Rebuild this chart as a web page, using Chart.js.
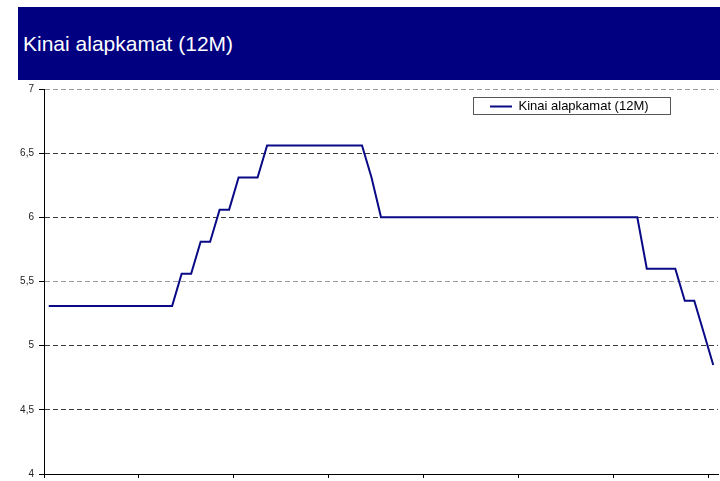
<!DOCTYPE html>
<html>
<head>
<meta charset="utf-8">
<script src="https://cdn.jsdelivr.net/npm/chart.js@4/dist/chart.umd.min.js"></script>
<style>
  html, body { margin: 0; padding: 0; background: #fff; overflow: hidden; }
  #wrap { position: relative; width: 720px; height: 481px; overflow: hidden; }
  #banner { position: absolute; left: 18px; top: 7px; width: 702px; height: 73px; background: #000080;
            color: #fff; font-family: "Liberation Sans", Arial, sans-serif; font-size: 21px;
            display: flex; align-items: center; padding-left: 5px; box-sizing: border-box; }
  #cv { position: absolute; left: 0; top: 0; }
</style>
</head>
<body>
<div id="wrap">
  <canvas id="cv" width="720" height="485"></canvas>
  <div id="banner">Kinai alapkamat (12M)</div>
</div>
<script>
const chartTitle = "Kinai alapkamat (12M)";
const seriesName = "Kinai alapkamat (12M)";
const categories = ["1","2","3","4","5","6","7","8","9","10","11","12","13","14","15","16","17","18","19","20",
  "21","22","23","24","25","26","27","28","29","30","31","32","33","34","35","36","37","38","39","40",
  "41","42","43","44","45","46","47","48","49","50","51","52","53","54","55","56","57","58","59","60",
  "61","62","63","64","65","66","67","68","69","70","71"];
const rateValues = [
  5.31,5.31,5.31,5.31,5.31,5.31,5.31,5.31,5.31,5.31,5.31,5.31,5.31,5.31,
  5.56,5.56,
  5.81,5.81,
  6.06,6.06,
  6.31,6.31,6.31,
  6.56,6.56,6.56,6.56,6.56,6.56,6.56,6.56,6.56,6.56,6.56,
  6.31,
  6.00,6.00,6.00,6.00,6.00,6.00,6.00,6.00,6.00,6.00,6.00,6.00,6.00,6.00,
  6.00,6.00,6.00,6.00,6.00,6.00,6.00,6.00,6.00,6.00,6.00,6.00,6.00,6.00,
  5.60,5.60,5.60,5.60,
  5.35,5.35,
  5.10,
  4.85
];
const yMin = 4, yMax = 7, yStep = 0.5;
const xTickEvery = 10;
const lightGridValues = [7, 5.5, 4];

const legendPlacer = {
  id: 'legendPlacer',
  afterLayout(chart) {
    const lg = chart.legend;
    if (!lg) return;
    const w = lg.width, h = lg.height;
    lg.left = 490; lg.right = lg.left + w;
    lg.top = 100; lg.bottom = lg.top + h;
  },
  afterDraw(chart) {
    const lg = chart.legend;
    if (!lg || !lg.legendHitBoxes || !lg.legendHitBoxes.length) return;
    const hb = lg.legendHitBoxes[0];
    const ctx = chart.ctx;
    ctx.save();
    ctx.strokeStyle = '#555';
    ctx.lineWidth = 1;
    ctx.setLineDash([]);
    const x0 = Math.round(lg.left - 17) + 0.5;
    const x1 = Math.round(lg.left + hb.width + 21) + 0.5;
    ctx.strokeRect(x0, 97.5, x1 - x0, 17);
    // solid axis lines (y axis border drawn solid over dashed grid)
    const a = chart.chartArea;
    ctx.strokeStyle = '#000';
    ctx.beginPath();
    ctx.moveTo(Math.round(a.left) + 0.5, a.top);
    ctx.lineTo(Math.round(a.left) + 0.5, Math.round(a.bottom) + 0.5);
    ctx.lineTo(a.right, Math.round(a.bottom) + 0.5);
    ctx.stroke();
    ctx.restore();
  }
};

new Chart(document.getElementById('cv'), {
  type: 'line',
  data: {
    labels: categories,
    datasets: [{
      label: seriesName,
      data: rateValues,
      borderColor: '#0a0a86',
      backgroundColor: '#0a0a86',
      borderWidth: 2,
      pointRadius: 0,
      tension: 0,
      fill: false
    }]
  },
  options: {
    responsive: false,
    animation: false,
    devicePixelRatio: 1,
    layout: { padding: { top: 89, right: 2, bottom: 0, left: 0 } },
    plugins: {
      title: { display: false, text: chartTitle },
      tooltip: { enabled: false },
      legend: {
        display: true,
        position: 'chartArea',
        align: 'start',
        labels: {
          usePointStyle: true,
          pointStyle: 'line',
          pointStyleWidth: 22,
          padding: 0,
          color: '#000',
          font: { family: '"Liberation Sans", Arial, sans-serif', size: 13 }
        }
      }
    },
    scales: {
      x: {
        type: 'category',
        offset: true,
        afterFit: (s) => { s.height = 8; },
        border: { display: true, color: '#000', width: 1 },
        grid: {
          display: true,
          offset: true,
          drawOnChartArea: false,
          drawTicks: true,
          tickLength: 4,
          tickColor: (c) => (c.index % xTickEvery === 0 ? '#000' : 'rgba(0,0,0,0)'),
          color: 'rgba(0,0,0,0)'
        },
        ticks: { display: false, autoSkip: false }
      },
      y: {
        min: yMin,
        max: yMax,
        border: { display: true, color: '#000', width: 1, dash: [5, 3] },
        afterFit: (s) => { s.width = 44; },
        grid: {
          color: (c) => (c.tick && lightGridValues.includes(c.tick.value) ? '#9c9c9c' : '#3c3c3c'),
          tickBorderDash: [],
          tickColor: '#000',
          tickLength: 5,
          lineWidth: 1
        },
        ticks: {
          stepSize: yStep,
          padding: 5,
          color: '#222',
          font: { family: '"Liberation Sans", Arial, sans-serif', size: 10 },
          callback: (v) => String(v).replace('.', ',')
        }
      }
    }
  },
  plugins: [legendPlacer]
});
</script>
</body>
</html>
